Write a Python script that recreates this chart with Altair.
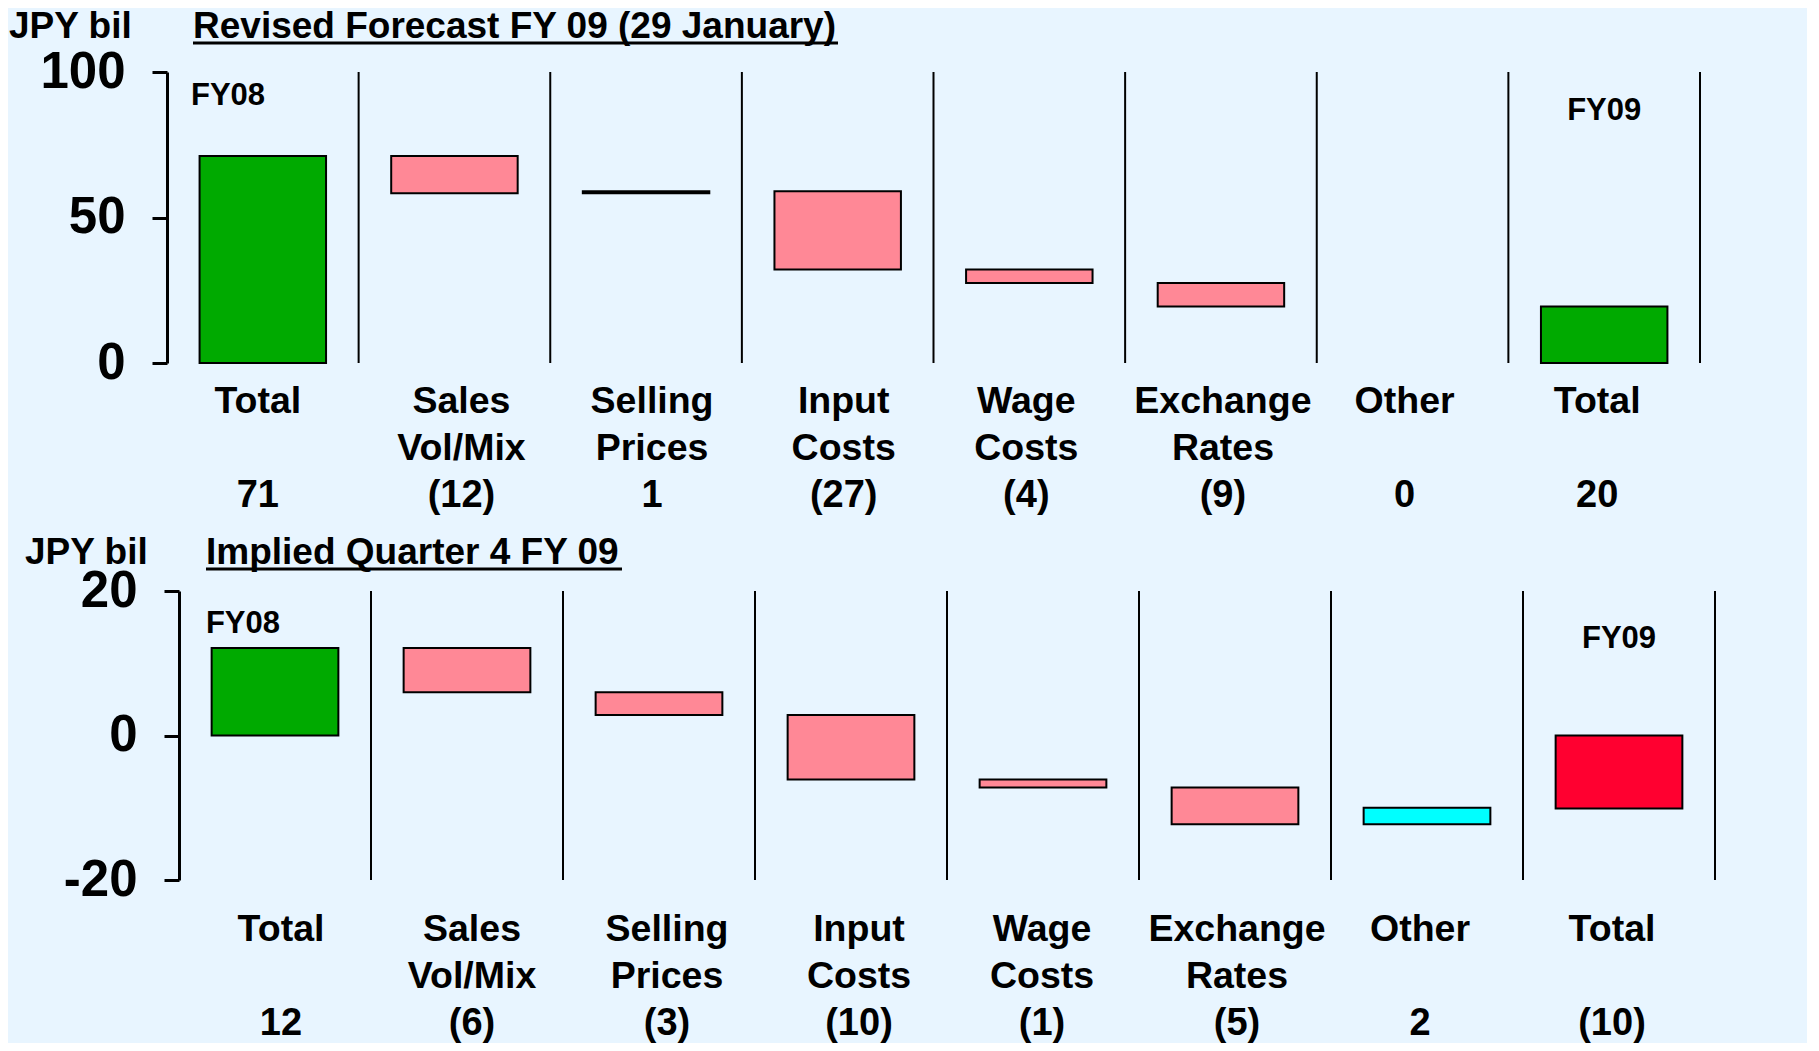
import altair as alt
import pandas as pd

FONT = "Liberation Sans"

categories = ["Total", "Sales\nVol/Mix", "Selling\nPrices", "Input\nCosts",
              "Wage\nCosts", "Exchange\nRates", "Other", "Total"]

# Panel 1: Revised Forecast FY 09 (29 January)
top_lo = [0, 58.3, 58.3, 32.1, 27.5, 19.4, None, 0]
top_hi = [71.1, 71.1, 59.0, 59.0, 32.1, 27.5, None, 19.4]
top_colors = ["#00AA00", "#FF8896", "#FF8896", "#FF8896", "#FF8896", "#FF8896", None, "#00AA00"]
top_values = ["71", "(12)", "1", "(27)", "(4)", "(9)", "0", "20"]
top_ticks = [0, 50, 100]
top_domain = [0, 100]

# Panel 2: Implied Quarter 4 FY 09
bot_lo = [0, 6.0, 2.85, -6.1, -7.2, -12.3, -12.3, -10.1]
bot_hi = [12.1, 12.1, 6.0, 2.85, -6.1, -7.2, -10.0, 0]
bot_colors = ["#00AA00", "#FF8896", "#FF8896", "#FF8896", "#FF8896", "#FF8896", "#00FFFF", "#FF0030"]
bot_values = ["12", "(6)", "(3)", "(10)", "(1)", "(5)", "2", "(10)"]
bot_ticks = [-20, 0, 20]
bot_domain = [-20, 20]

# label nudges in pixels (style only)
top_label_dx = [-5, 7, 6, 6, -3, 2, -8, -7]
bot_label_dx = [6, 5, 8, 8, -1, 2, -7, -7]


def panel(lo, hi, colors, values, y_dom, y_ticks, title, width, height, x_dom,
          axis_offset, cat_y, val_y, jpy_xy, title_xy, title_w, fy08_xy, fy09_xy,
          label_dx, anchor=False):
    n = len(categories)
    px_per_unit = width / (x_dom[1] - x_dom[0])
    bars = pd.DataFrame({"pos": list(range(n)), "lo": lo, "hi": hi, "color": colors}).dropna()
    bars["xs"] = bars["pos"] + 0.17
    bars["xe"] = bars["pos"] + 0.83

    xscale = alt.Scale(domain=x_dom, nice=False, zero=False)
    yscale = alt.Scale(domain=y_dom, nice=False, zero=False)

    bar_layer = alt.Chart(bars).mark_bar(stroke="black", strokeWidth=2).encode(
        x=alt.X("xs:Q", scale=xscale, axis=None),
        x2="xe:Q",
        y=alt.Y("lo:Q", scale=yscale, title=None,
                axis=alt.Axis(values=y_ticks, grid=False, domainColor="black",
                              domainWidth=3, tickColor="black", tickWidth=3,
                              tickSize=15, labelFontSize=51, labelFont=FONT,
                              labelFontWeight="bold", labelColor="black",
                              labelPadding=27, offset=axis_offset,
                              labelExpr="datum.value < 0 ? '-' + abs(datum.value) : '' + datum.value")),
        y2="hi:Q",
        color=alt.Color("color:N", scale=None),
    )

    seps = pd.DataFrame({"sep": list(range(1, n + 1)),
                         "ylo": [y_dom[0]] * n, "yhi": [y_dom[1]] * n})
    sep_layer = alt.Chart(seps).mark_rule(color="black", strokeWidth=2).encode(
        x="sep:Q", y="ylo:Q", y2="yhi:Q")

    labs = pd.DataFrame({"mid": [i + 0.5 + label_dx[i] / px_per_unit for i in range(n)],
                         "cat": categories, "val": values})
    cat_layer = alt.Chart(labs).mark_text(font=FONT, fontSize=37.5, fontWeight="bold",
                                          color="black", lineBreak="\n", lineHeight=47,
                                          baseline="alphabetic", align="center").encode(
        x="mid:Q", y=alt.value(cat_y), text="cat:N")
    val_layer = alt.Chart(labs).mark_text(font=FONT, fontSize=38, fontWeight="bold",
                                          color="black", baseline="alphabetic",
                                          align="center").encode(
        x="mid:Q", y=alt.value(val_y), text="val:N")

    fy08 = alt.Chart(pd.DataFrame({"x": [fy08_xy[0]], "y": [fy08_xy[1]], "t": ["FY08"]})).mark_text(
        font=FONT, fontSize=31, fontWeight="bold", color="black", align="left",
        baseline="middle").encode(x="x:Q", y="y:Q", text="t:N")
    fy09 = alt.Chart(pd.DataFrame({"x": [fy09_xy[0]], "y": [fy09_xy[1]], "t": ["FY09"]})).mark_text(
        font=FONT, fontSize=31, fontWeight="bold", color="black", align="center",
        baseline="middle").encode(x="x:Q", y="y:Q", text="t:N")

    jpy = alt.Chart(pd.DataFrame({"t": ["JPY bil"]})).mark_text(
        font=FONT, fontSize=37, fontWeight="bold", color="black", align="left",
        baseline="alphabetic").encode(x=alt.value(jpy_xy[0]), y=alt.value(jpy_xy[1]), text="t:N")
    ttl = alt.Chart(pd.DataFrame({"t": [title]})).mark_text(
        font=FONT, fontSize=37, fontWeight="bold", color="black", align="left",
        baseline="alphabetic").encode(x=alt.value(title_xy[0]), y=alt.value(title_xy[1]), text="t:N")
    uline = alt.Chart(pd.DataFrame({"a": [0]})).mark_rule(color="black", strokeWidth=3).encode(
        x=alt.value(title_xy[0]), x2=alt.value(title_xy[0] + title_w), y=alt.value(title_xy[1] + 5))

    layers = [bar_layer, sep_layer, cat_layer, val_layer, fy08, fy09, jpy, ttl, uline]
    if anchor:
        anc = alt.Chart(pd.DataFrame({"a": [0]})).mark_rule(opacity=0, strokeOpacity=0).encode(
            x=alt.value(-159), y=alt.value(-64), x2=alt.value(1640), y2=alt.value(966))
        layers.append(anc)
    return alt.layer(*layers).properties(width=width, height=height)


top = panel(top_lo, top_hi, top_colors, top_values, top_domain, top_ticks,
            "Revised Forecast FY 09 (29 January)", 1533, 291, [0, 8], 0,
            341, 435, (-158, -34), (26, -34), 645, (0.125, 91.8), (7.5, 86.6),
            top_label_dx, anchor=True)

bottom = panel(bot_lo, bot_hi, bot_colors, bot_values, bot_domain, bot_ticks,
               "Implied Quarter 4 FY 09", 1548, 289, [-0.0625, 8], -12,
               350, 444, (-142, -27), (39, -27), 416, (0.14, 15.4), (7.5, 13.4),
               bot_label_dx)

chart = alt.vconcat(top, bottom, spacing=228, bounds="flush").properties(
    padding={"left": 0, "top": 0, "right": 0, "bottom": 0}
).configure(background="#E8F5FF").configure_view(strokeWidth=0)

chart.save("out.html", embed_options={"renderer": "svg", "actions": False})
